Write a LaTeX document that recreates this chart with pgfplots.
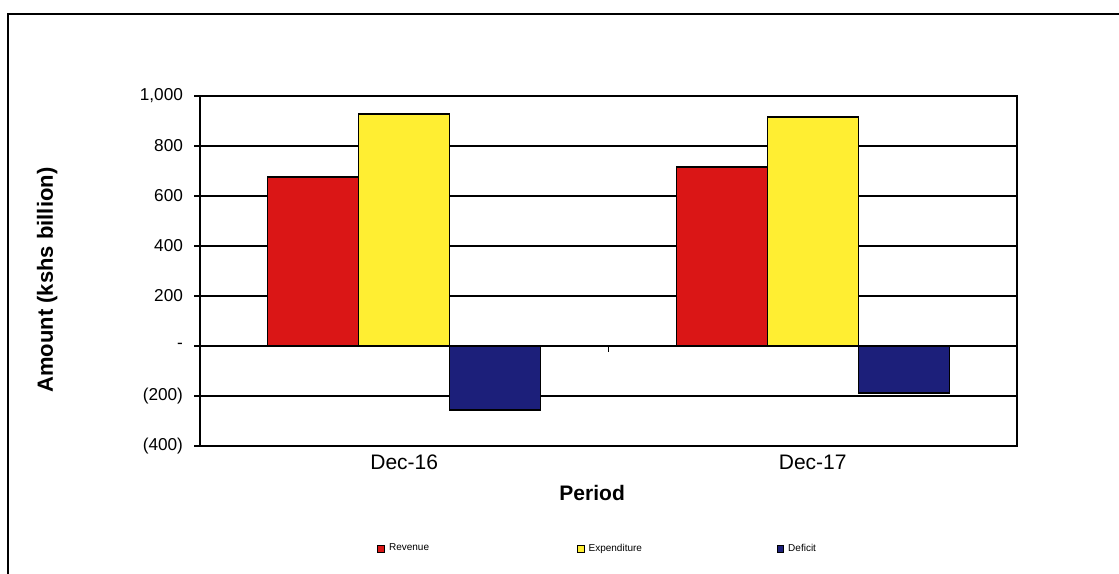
\documentclass[border=0pt]{standalone}
\usepackage{pgfplots}
\pgfplotsset{compat=1.18}
\usepackage{fontspec}
\setmainfont{Liberation Sans}
\definecolor{rev}{RGB}{218,22,22}
\definecolor{exp}{RGB}{255,238,50}
\definecolor{def}{RGB}{28,31,122}
\begin{document}
\begin{tikzpicture}
\useasboundingbox (0,0) rectangle (559.5pt,286.5pt);
\draw[line width=1pt] (4pt,-2pt) -- (4pt,279.5pt) -- (562pt,279.5pt);
\begin{axis}[
  at={(100pt,63.5pt)}, anchor=south west,
  scale only axis, width=408.5pt, height=175pt,
  xmin=0.5, xmax=2.5, ymin=-400, ymax=1000,
  ybar=0pt, bar width=45.5pt,
  xtick={1,2}, xticklabels={Dec-16,Dec-17},
  x tick style={draw=none},
  xticklabel style={font=\fontsize{10.5}{12}\selectfont, anchor=center, yshift=-5pt},
  ytick={-400,-200,0,200,400,600,800,1000},
  yticklabels={(400),(200),-,200,400,600,800,{1,000}},
  ytick pos=left,
  yticklabel style={font=\fontsize{8.6}{10}\selectfont, xshift=-2pt},
  /pgf/number format/assume math mode=true,
  tick align=outside, major tick length=3pt,
  y tick style={black, line width=0.8pt},
  ymajorgrids, grid style={black, line width=0.8pt},
  axis line style={black, line width=0.8pt},
  xlabel={Period}, ylabel={Amount (kshs billion)},
  every axis x label/.style={at={(axis description cs:0.48,-0.134)}, anchor=center, font=\bfseries\fontsize{10.5}{12}\selectfont},
  every axis y label/.style={at={(axis description cs:-0.187,0.474)}, rotate=90, anchor=center, font=\bfseries\fontsize{11}{13}\selectfont},
  legend columns=3,
  legend style={at={(axis description cs:0.2167,-0.294)}, anchor=west, draw=none, fill=none, inner sep=0pt,
    font=\fontsize{5}{6}\selectfont,
    /tikz/every even column/.append style={text width=92pt}},
  legend image code/.code={\draw[#1, draw=black, line width=0.4pt] (0pt,-1.6pt) rectangle (3.4pt,1.8pt);},
]
\addplot[fill=rev, draw=black, line width=0.7pt] coordinates {(1,676) (2,716)};
\addplot[fill=exp, draw=black, line width=0.7pt] coordinates {(1,928) (2,916)};
\addplot[fill=def, draw=black, line width=0.7pt] coordinates {(1,-256) (2,-188)};
\legend{Revenue,Expenditure,Deficit}
\draw[black, line width=0.8pt] (axis cs:1.5,0) -- ([yshift=-3pt]axis cs:1.5,0);
\end{axis}
\end{tikzpicture}
\end{document}
